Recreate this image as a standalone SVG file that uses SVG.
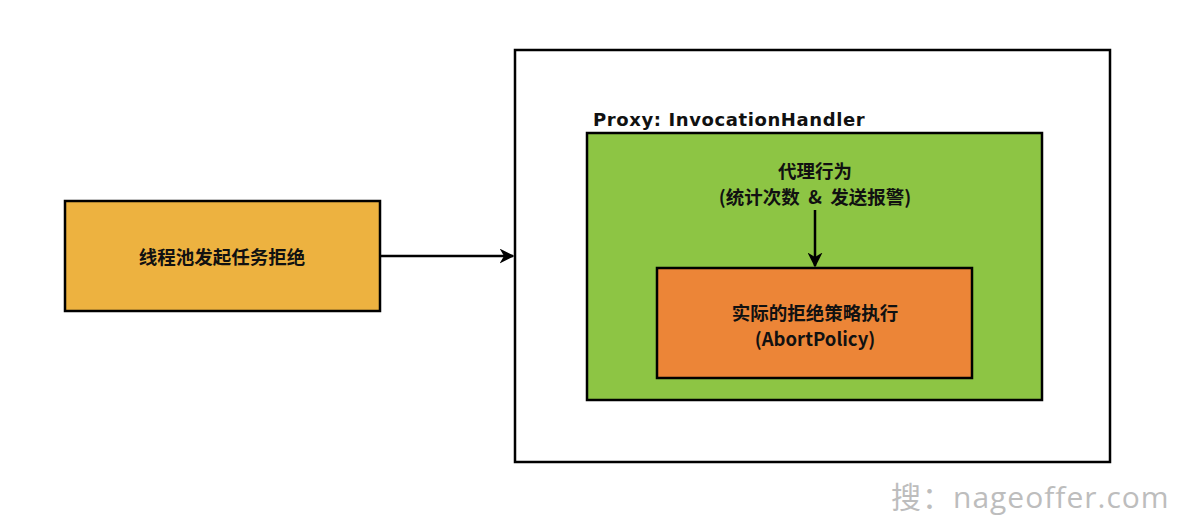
<svg xmlns="http://www.w3.org/2000/svg" width="1200" height="532" viewBox="0 0 1200 532">
<defs>
<style>
.box{stroke:#000;stroke-width:2.5}
.cjk{font-family:"Noto Sans CJK SC","Liberation Sans",sans-serif;font-size:18.5px;font-weight:bold;fill:#111;text-anchor:middle}
.lbl{font-family:"DejaVu Sans","Liberation Sans",sans-serif;font-size:18px;font-weight:bold;fill:#111;letter-spacing:0.6px}
.wm{font-family:"Open Sans","Noto Sans CJK SC",sans-serif;font-size:30px;fill:#bdbdbd;letter-spacing:1px}
.conn{stroke:#000;stroke-width:2.5;fill:none}
</style>
<marker id="ah" viewBox="0 0 10 10" refX="9" refY="5" markerWidth="6" markerHeight="6" markerUnits="strokeWidth" orient="auto">
<path d="M0,0 L10,5 L0,10 L3,5 Z" fill="#000"/>
</marker>
</defs>
<rect width="1200" height="532" fill="#fff"/>
<g id="outer">
<rect class="box" x="515" y="50" width="595" height="412" fill="#fff"/>
</g>
<g id="proxy">
<text class="lbl" x="593" y="126">Proxy: InvocationHandler</text>
<rect class="box" x="587" y="133" width="455" height="267" fill="#8dc544"/>
<text class="cjk" x="815" y="178">代理行为</text>
<text class="cjk" x="815" y="204" xml:space="preserve">(统计次数  &amp;  发送报警)</text>
</g>
<g id="abort">
<rect class="box" x="657" y="268" width="315" height="110" fill="#ec8537"/>
<text class="cjk" x="815" y="320">实际的拒绝策略执行</text>
<text class="cjk" x="815" y="346">(AbortPolicy)</text>
</g>
<g id="pool">
<rect class="box" x="65" y="201" width="315" height="110" fill="#edb240"/>
<text class="cjk" x="222" y="264">线程池发起任务拒绝</text>
</g>
<g id="connectors">
<line class="conn" x1="380" y1="256" x2="513" y2="256" marker-end="url(#ah)"/>
<line class="conn" x1="815" y1="210" x2="815" y2="266" marker-end="url(#ah)"/>
</g>
<text class="wm" x="891" y="508">搜：nageoffer.com</text>
</svg>
